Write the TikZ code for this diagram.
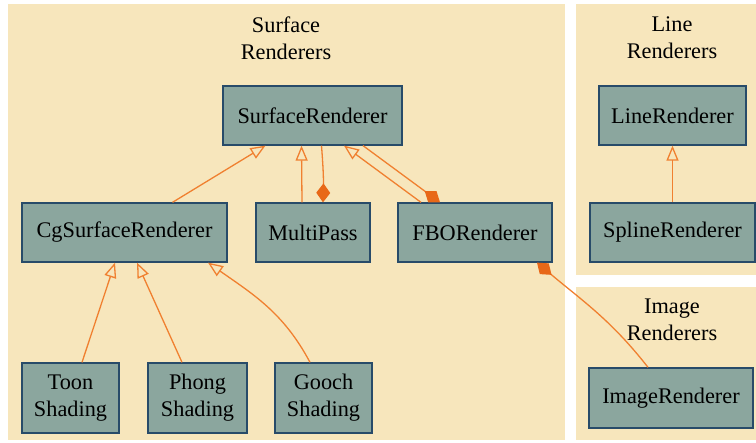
\documentclass[tikz,border=0pt]{standalone}
\usepackage{fontspec}
\setmainfont{Liberation Serif}
\usetikzlibrary{arrows.meta}

\definecolor{clusterbg}{RGB}{247,230,188}
\definecolor{classfill}{RGB}{139,166,158}
\definecolor{classdraw}{RGB}{40,75,105}
\definecolor{edgeline}{RGB}{240,128,48}
\definecolor{edgetip}{RGB}{232,104,24}

\tikzset{
  cluster_bg/.style={fill=clusterbg,draw=none},
  cluster_lbl/.style={align=center,inner sep=0pt},
  class_box/.style={rectangle,fill=classfill,draw=classdraw,line width=1.3pt,align=center,minimum height=59pt,inner sep=0pt},
  inherit_edge/.style={edgeline,line width=1.3pt,-{Triangle[open,length=15pt,width=12pt,fill=clusterbg]}},
  compose_edge/.style={edgeline,line width=1.3pt,-{Diamond[length=19pt,width=14pt,fill=edgetip,color=edgetip]}},
}

\begin{document}
\begin{tikzpicture}[
  x=1pt,y=1pt,
  every node/.style={font=\fontsize{22.3}{27}\selectfont},
  ]
  \useasboundingbox (0,0) rectangle (756,443);

  % clusters
  \fill[cluster_bg] (8,3) rectangle (565,439);
  \fill[cluster_bg] (576,168) rectangle (756,439);
  \fill[cluster_bg] (576,3) rectangle (756,156);
  \node[cluster_lbl] (surf_lbl) at (286,405) {Surface\\Renderers};
  \node[cluster_lbl] (line_lbl) at (672,405) {Line\\Renderers};
  \node[cluster_lbl] (image_lbl) at (672,123) {Image\\Renderers};

  % classes
  \node[class_box,minimum width=179pt] (surf) at (312.5,327.5) {SurfaceRenderer};
  \node[class_box,minimum width=205pt] (cg) at (124.5,210.5) {CgSurfaceRenderer};
  \node[class_box,minimum width=114pt] (multi) at (313,210.5) {MultiPass};
  \node[class_box,minimum width=154pt] (fbo) at (475,210.5) {FBORenderer};
  \node[class_box,minimum width=97pt,minimum height=70pt] (toon) at (70.5,45) {Toon\\Shading};
  \node[class_box,minimum width=99pt,minimum height=70pt] (phong) at (197.5,45) {Phong\\Shading};
  \node[class_box,minimum width=97pt,minimum height=70pt] (gooch) at (323.5,45) {Gooch\\Shading};
  \node[class_box,minimum width=147pt] (line) at (672.5,327.5) {LineRenderer};
  \node[class_box,minimum width=165pt] (spline) at (672.5,210.5) {SplineRenderer};
  \node[class_box,minimum width=164pt,minimum height=60pt] (image) at (671,45) {ImageRenderer};

  % inheritance and composition
  \draw[inherit_edge] ([xshift=48pt]cg.north) -- ([xshift=-47pt]surf.south);
  \draw[inherit_edge] ([xshift=-11pt]multi.north) -- ([xshift=-11pt]surf.south);
  \draw[compose_edge] ([xshift=9pt]surf.south) to[bend left=3] ([xshift=10pt]multi.north);
  \draw[inherit_edge] ([xshift=-54pt]fbo.north) -- ([xshift=31.5pt]surf.south);
  \draw[compose_edge] ([xshift=50.5pt]surf.south) -- ([xshift=-35pt]fbo.north);

  \foreach \kid/\from/\to in {toon/11.5/-9.5, phong/-15.5/12.5}{
    \draw[inherit_edge] ([xshift=\from pt]\kid.north) -- ([xshift=\to pt]cg.south);
  }
  \draw[inherit_edge] ([xshift=-13.5pt]gooch.north) to[out=118,in=-35] ([xshift=83.5pt]cg.south);

  \draw[inherit_edge] (spline) -- (line);
  \draw[compose_edge] ([xshift=-23pt]image.north) to[out=128,in=-40] ([xshift=62pt]fbo.south);

\end{tikzpicture}
\end{document}
